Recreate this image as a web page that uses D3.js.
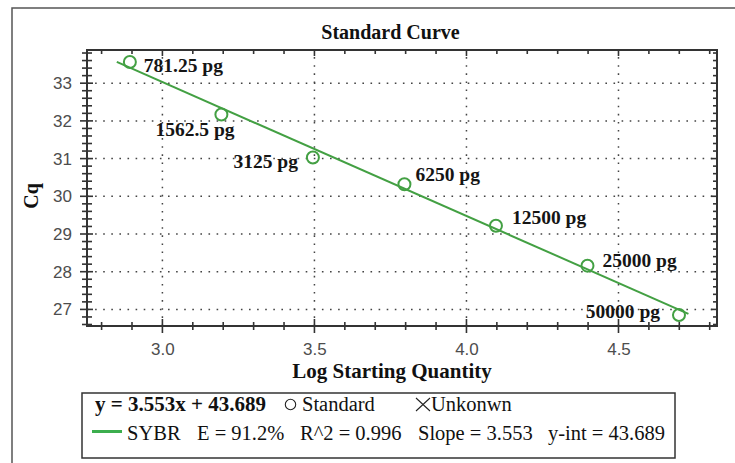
<!DOCTYPE html>
<html>
<head>
<meta charset="utf-8">
<script src="https://cdn.jsdelivr.net/npm/d3@7"></script>
<style>
  html, body { margin: 0; padding: 0; background: #fff; }
  svg { display: block; }
  .serif { font-family: "Liberation Serif", "Times New Roman", serif; }
  .tick text { font-family: "Liberation Sans", Arial, sans-serif !important; font-size: 17px !important; }
</style>
</head>
<body>
<svg id="chart" width="735" height="463"></svg>
<script>
// ---- data ----
const quantities = ["781.25 pg", "1562.5 pg", "3125 pg", "6250 pg", "12500 pg", "25000 pg", "50000 pg"];
const logQuantity = [2.893, 3.194, 3.495, 3.796, 4.097, 4.398, 4.699];
const cqValues = [33.56, 32.17, 31.03, 30.32, 29.22, 28.16, 26.85];
const fitSlope = -3.553;
const fitIntercept = 43.689;
const fitRange = [2.85, 4.73];
const xTickValues = [3.0, 3.5, 4.0, 4.5];
const yTickValues = [27, 28, 29, 30, 31, 32, 33];
const legendRow1 = ["y = 3.553x + 43.689", "Standard", "Unkonwn"];
const legendRow2 = ["SYBR", "E = 91.2%", "R^2 = 0.996", "Slope = 3.553", "y-int = 43.689"];

// ---- presentation ----
const labelPlacement = [
  {dx: 14, dy: 10, anchor: "start"},
  {dx: -66, dy: 22, anchor: "start"},
  {dx: -15, dy: 11, anchor: "end"},
  {dx: 11, dy: -3, anchor: "start"},
  {dx: 16, dy: -2, anchor: "start"},
  {dx: 15, dy: 1, anchor: "start"},
  {dx: -19, dy: 3, anchor: "end"}
];

const svg = d3.select("#chart");
const L = 87, R = 717, T = 50, B = 326;
const x = d3.scaleLinear().domain([2.752, 4.824]).range([L, R]);
const y = d3.scaleLinear().domain([26.56, 33.88]).range([B, T]);
const axisColor = "#333";
const green = "#43a043";

// outer frame (only left & top visible)
svg.append("path").attr("d", "M12,470V8H745")
  .attr("fill", "none").attr("stroke", "#555").attr("stroke-width", 1.5);

// title
svg.append("text").attr("class", "serif")
  .attr("x", 390.5).attr("y", 38.5).attr("text-anchor", "middle")
  .style("font-size", "20px").attr("font-weight", "bold").attr("fill", "#111")
  .text("Standard Curve");

// grid
const grid = svg.append("g").attr("stroke", "#444").attr("stroke-width", 1.5)
  .attr("stroke-dasharray", "1.6,6.5");
grid.selectAll(".gx").data(xTickValues).join("line")
  .attr("x1", d => x(d)).attr("x2", d => x(d)).attr("y1", B).attr("y2", T);
grid.selectAll(".gy").data(yTickValues).join("line")
  .attr("x1", L).attr("x2", R).attr("y1", d => y(d)).attr("y2", d => y(d));

// minor tick values
const xMinor = d3.range(28, 49).map(v => v / 10).filter(v => !xTickValues.some(t => Math.abs(t - v) < 1e-6));
const yMinor = d3.range(133, 170).map(v => v / 5).filter(v => !yTickValues.some(t => Math.abs(t - v) < 1e-6));

// bottom axis labels
const bottom = svg.append("g").attr("transform", `translate(0,${B})`)
  .call(d3.axisBottom(x).tickValues(xTickValues).tickSize(0).tickFormat(d3.format(".1f")));
bottom.attr("font-size", null).attr("font-family", null);
bottom.select(".domain").remove();
bottom.selectAll("text").attr("fill", "#4d4d4d").attr("dy", null).attr("y", 28.5);

const tickG = svg.append("g").attr("stroke", axisColor).attr("stroke-width", 1.6);
tickG.selectAll(".bmaj").data(xTickValues).join("line")
  .attr("x1", d => x(d)).attr("x2", d => x(d)).attr("y1", B - 7).attr("y2", B + 7);
tickG.selectAll(".bmin").data(xMinor).join("line")
  .attr("x1", d => x(d)).attr("x2", d => x(d)).attr("y1", B - 4).attr("y2", B + 4);
// top ticks (inside)
tickG.selectAll(".tmaj").data(xTickValues).join("line")
  .attr("x1", d => x(d)).attr("x2", d => x(d)).attr("y1", T).attr("y2", T + 6);
tickG.selectAll(".tmin").data(xMinor).join("line")
  .attr("x1", d => x(d)).attr("x2", d => x(d)).attr("y1", T).attr("y2", T + 4);

// left axis labels
const left = svg.append("g").attr("transform", `translate(${L},0)`)
  .call(d3.axisLeft(y).tickValues(yTickValues).tickSize(0).tickFormat(d3.format("d")));
left.attr("font-size", null).attr("font-family", null);
left.select(".domain").remove();
left.selectAll("text").attr("fill", "#4d4d4d").attr("x", -15);
tickG.selectAll(".lmaj").data(yTickValues).join("line")
  .attr("x1", L - 7).attr("x2", L + 6).attr("y1", d => y(d)).attr("y2", d => y(d));
tickG.selectAll(".lmin").data(yMinor).join("line")
  .attr("x1", L - 5).attr("x2", L + 5).attr("y1", d => y(d)).attr("y2", d => y(d));
// right ticks (inside)
tickG.selectAll(".rmaj").data(yTickValues).join("line")
  .attr("x1", R - 6).attr("x2", R).attr("y1", d => y(d)).attr("y2", d => y(d));
tickG.selectAll(".rmin").data(yMinor).join("line")
  .attr("x1", R - 4).attr("x2", R).attr("y1", d => y(d)).attr("y2", d => y(d));

// frame of plot area
svg.append("rect").attr("x", L).attr("y", T).attr("width", R - L).attr("height", B - T)
  .attr("fill", "none").attr("stroke", axisColor).attr("stroke-width", 2);

// fit line
const fitLine = d3.line().x(d => x(d)).y(d => y(fitSlope * d + fitIntercept));
svg.append("path").datum(fitRange).attr("d", fitLine)
  .attr("fill", "none").attr("stroke", green).attr("stroke-width", 2);

// points
const pts = logQuantity.map((v, i) => ({x: v, y: cqValues[i], label: quantities[i], p: labelPlacement[i]}));
svg.selectAll(".pt").data(pts).join("circle")
  .attr("cx", d => x(d.x)).attr("cy", d => y(d.y)).attr("r", 6)
  .attr("fill", "none").attr("stroke", green).attr("stroke-width", 2);

// labels
svg.selectAll(".lbl").data(pts).join("text").attr("class", "serif")
  .attr("x", d => x(d.x) + d.p.dx).attr("y", d => y(d.y) + d.p.dy)
  .attr("text-anchor", d => d.p.anchor)
  .style("font-size", "19.5px").attr("font-weight", "bold").attr("fill", "#151515")
  .text(d => d.label);

// axis titles
svg.append("text").attr("class", "serif")
  .attr("x", 392).attr("y", 378).attr("text-anchor", "middle")
  .style("font-size", "21px").attr("font-weight", "bold").attr("fill", "#111")
  .text("Log Starting Quantity");
svg.append("text").attr("class", "serif")
  .attr("transform", "translate(38,196) rotate(-90)").attr("text-anchor", "middle")
  .style("font-size", "20px").attr("font-weight", "bold").attr("fill", "#111")
  .text("Cq");

// legend
const lg = svg.append("g");
lg.append("rect").attr("x", 82).attr("y", 393).attr("width", 593).attr("height", 65)
  .attr("fill", "#fff").attr("stroke", "#333").attr("stroke-width", 1.5);
lg.append("text").attr("class", "serif").attr("x", 95).attr("y", 411)
  .style("font-size", "21px").attr("font-weight", "bold").attr("fill", "#111").text(legendRow1[0]);
lg.append("circle").attr("cx", 290.5).attr("cy", 404.5).attr("r", 5.2)
  .attr("fill", "none").attr("stroke", "#222").attr("stroke-width", 1.1);
lg.append("text").attr("class", "serif").attr("x", 302).attr("y", 411)
  .style("font-size", "20.5px").attr("fill", "#111").text(legendRow1[1]);
lg.append("path").attr("d", "M416,398L430,411M430,398L416,411")
  .attr("stroke", "#222").attr("stroke-width", 1.1).attr("fill", "none");
lg.append("text").attr("class", "serif").attr("x", 431).attr("y", 411)
  .style("font-size", "20.5px").attr("fill", "#111").text(legendRow1[2]);
lg.append("line").attr("x1", 92).attr("x2", 122).attr("y1", 431.5).attr("y2", 431.5)
  .attr("stroke", "#3cae4e").attr("stroke-width", 3);
const row2x = [127, 197, 300, 418, 548];
lg.selectAll(".r2").data(legendRow2).join("text").attr("class", "serif")
  .attr("x", (d, i) => row2x[i]).attr("y", 440)
  .style("font-size", "20.5px").attr("fill", "#111").text(d => d);
</script>
</body>
</html>
